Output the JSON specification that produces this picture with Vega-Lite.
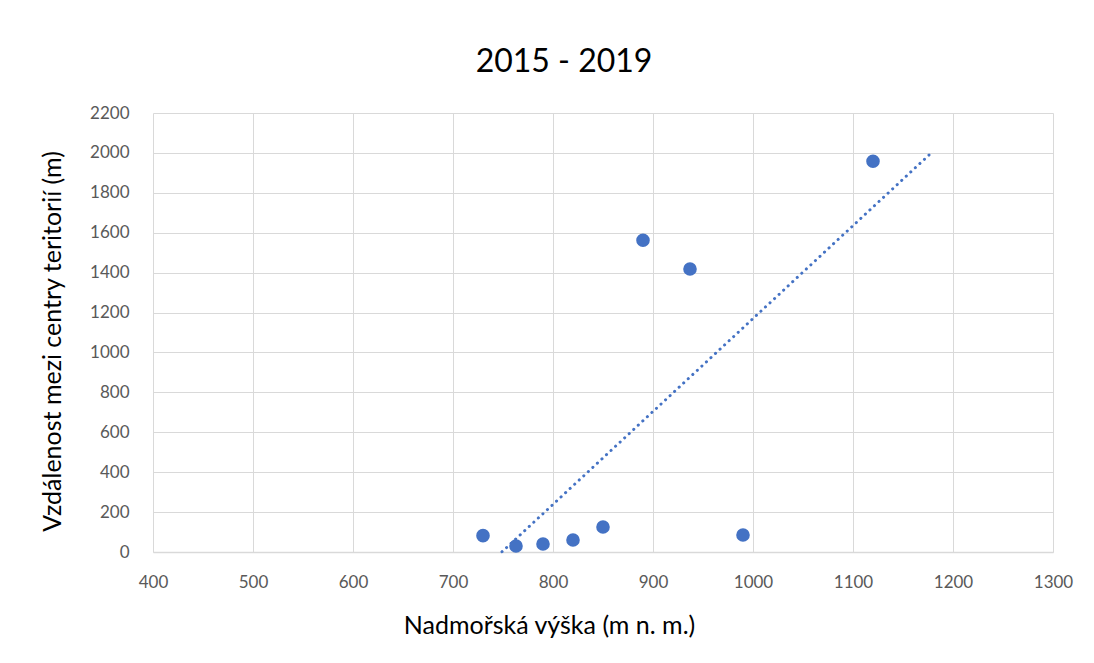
{
  "$schema": "https://vega.github.io/schema/vega-lite/v6.json",
  "width": 900,
  "height": 439,
  "autosize": {"type": "none"},
  "padding": {"left": 153, "top": 113, "right": 41, "bottom": 111},
  "background": "white",
  "title": {
    "text": "2015 - 2019",
    "fontSize": 32,
    "font": "Lato",
    "fontWeight": "normal",
    "color": "#000000",
    "offset": 25,
    "dx": -39,
    "anchor": "middle"
  },
  "config": {
    "view": {"stroke": null},
    "axis": {
      "labelFont": "Lato",
      "titleFont": "Lato",
      "labelFontSize": 17,
      "labelColor": "#595959",
      "titleFontSize": 25,
      "titleFontWeight": "normal",
      "titleColor": "#000000",
      "gridColor": "#d9d9d9",
      "gridWidth": 1,
      "ticks": false,
      "labelOverlap": false,
      "labelFlush": false
    }
  },
  "data": {
    "values": [
      {"vyska": 730, "vzdalenost": 82},
      {"vyska": 763, "vzdalenost": 30},
      {"vyska": 790, "vzdalenost": 40},
      {"vyska": 820, "vzdalenost": 60},
      {"vyska": 850, "vzdalenost": 125},
      {"vyska": 890, "vzdalenost": 1562},
      {"vyska": 937, "vzdalenost": 1418},
      {"vyska": 990, "vzdalenost": 85},
      {"vyska": 1120, "vzdalenost": 1958}
    ]
  },
  "encoding": {
    "x": {
      "field": "vyska",
      "type": "quantitative",
      "scale": {"domain": [400, 1300], "nice": false, "zero": false},
      "axis": {"values": [400, 500, 600, 700, 800, 900, 1000, 1100, 1200, 1300], "format": "d", "title": "Nadmořská výška (m n. m.)", "labelPadding": 22, "titleX": 396, "titleY": 73, "titleBaseline": "middle", "domain": true, "domainColor": "#d9d9d9", "domainWidth": 1.5}
    },
    "y": {
      "field": "vzdalenost",
      "type": "quantitative",
      "scale": {"domain": [0, 2200], "nice": false},
      "axis": {"values": [0, 200, 400, 600, 800, 1000, 1200, 1400, 1600, 1800, 2000, 2200], "format": "d", "title": "Vzdálenost mezi centry teritorií (m)", "labelPadding": 24, "titleX": -101, "titleY": 228, "titleBaseline": "middle", "domain": false}
    }
  },
  "layer": [
    {
      "transform": [
        {"regression": "vzdalenost", "on": "vyska", "extent": [749, 1178]}
      ],
      "mark": {"type": "line", "color": "#4472C4", "strokeWidth": 3, "strokeDash": [0.1, 6.1], "strokeCap": "round"}
    },
    {
      "mark": {"type": "point", "filled": true, "color": "#4472C4", "opacity": 1, "size": 185}
    }
  ]
}
